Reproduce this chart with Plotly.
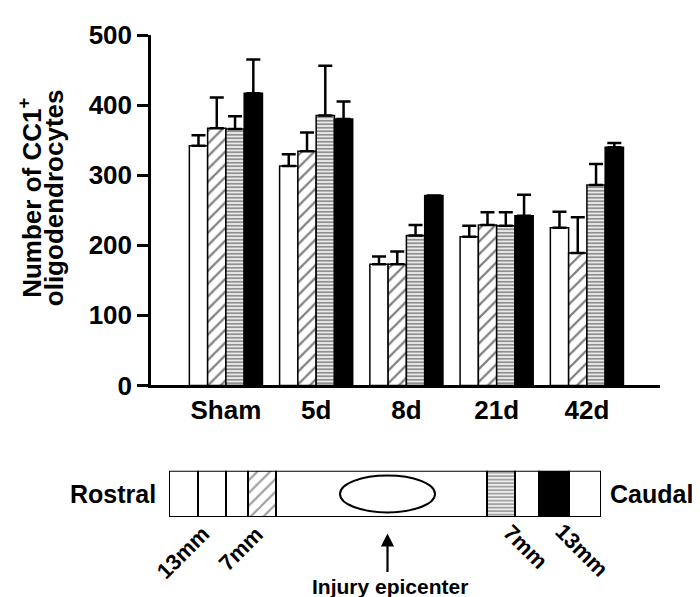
import plotly.graph_objects as go

# ---- data ----
categories = ["Sham", "5d", "8d", "21d", "42d"]
series_names = ["Rostral 13mm", "Rostral 7mm", "Caudal 7mm", "Caudal 13mm"]
rostral_13 = [342, 313, 173, 212, 225]
rostral_7 = [367, 334, 173, 229, 189]
caudal_7 = [366, 385, 214, 228, 286]
caudal_13 = [417, 380, 271, 242, 340]
err_rostral_13 = [15, 17, 11, 16, 23]
err_rostral_7 = [44, 27, 18, 18, 51]
err_caudal_7 = [18, 71, 15, 19, 30]
err_caudal_13 = [48, 25, 0, 30, 6]
y_ticks = [0, 100, 200, 300, 400, 500]

# schematic of the spinal cord (segment widths along the cord, arbitrary units)
seg_widths = [29, 28, 22, 28, 211, 28, 24, 30, 32]
seg_patterns = ["", "", "", "/", "", "-", "", "", ""]
seg_colors = ["white", "white", "white", "white", "white", "white", "white", "black", "white"]
epicenter = 218.5
lesion_half_width = 47.5
mm_labels = ["13mm", "7mm", "7mm", "13mm"]
mm_label_pos = [14, 72, 356, 413]
mm_label_angle = [-45, -45, 45, 45]

FONT = "Liberation Sans, Arial, Helvetica, sans-serif"


def bold(size):
    return dict(family=FONT, size=size, color="black", weight="bold")


values = [rostral_13, rostral_7, caudal_7, caudal_13]
errors = [err_rostral_13, err_rostral_7, err_caudal_7, err_caudal_13]
styles = [
    dict(color="white", pattern=None),
    dict(color="white", pattern=dict(shape="/", size=9, solidity=0.25, fgcolor="black", bgcolor="white")),
    dict(color="white", pattern=dict(shape="-", size=3.5, solidity=0.6, fgcolor="#222222", bgcolor="white")),
    dict(color="black", pattern=None),
]

fig = go.Figure()
for name, v, e, st in zip(series_names, values, errors, styles):
    marker = dict(color=st["color"], line=dict(color="black", width=1.5))
    if st["pattern"]:
        marker["pattern"] = st["pattern"]
    fig.add_trace(go.Bar(
        x=categories, y=v, name=name, marker=marker,
        error_y=dict(type="data", symmetric=False, array=e, arrayminus=[0] * len(e),
                     color="black", thickness=2.5, width=7),
        xaxis="x", yaxis="y", showlegend=False,
    ))

# schematic as one horizontal row of segments
starts = []
acc = 0
for w in seg_widths:
    starts.append(acc)
    acc += w
total = acc
fig.add_trace(go.Bar(
    x=seg_widths, base=starts, y=[0] * len(seg_widths), orientation="h", width=1,
    marker=dict(color=seg_colors, line=dict(color="black", width=2),
                pattern=dict(shape=seg_patterns, size=[9 if p == "/" else 3.5 for p in seg_patterns],
                             solidity=[0.25 if p == "/" else 0.6 for p in seg_patterns],
                             fgcolor="black")),
    xaxis="x2", yaxis="y2", showlegend=False, hoverinfo="skip",
))

fig.add_shape(type="circle", xref="x2", yref="y2",
              x0=epicenter - lesion_half_width, x1=epicenter + lesion_half_width,
              y0=-0.4, y1=0.4, line=dict(color="black", width=2))

annotations = []
annotations.append(dict(xref="x2", yref="paper", x=epicenter, y=-0.034, text="",
                        showarrow=True, arrowhead=2, arrowsize=1.2, arrowwidth=2.2,
                        arrowcolor="black", ax=0, ay=40))
annotations.append(dict(xref="x2", yref="paper", x=epicenter + 3, y=-0.145,
                        xanchor="center", yanchor="middle",
                        text="Injury epicenter", showarrow=False, font=bold(21)))
annotations.append(dict(xref="paper", yref="paper", x=0.0138, y=0.048,
                        xanchor="right", yanchor="middle",
                        text="Rostral", showarrow=False, font=bold(25)))
annotations.append(dict(xref="paper", yref="paper", x=0.897, y=0.048,
                        xanchor="left", yanchor="middle",
                        text="Caudal", showarrow=False, font=bold(25)))
for lab, pos, ang, yy in zip(mm_labels, mm_label_pos, mm_label_angle,
                             [-0.073, -0.065, -0.061, -0.069]):
    annotations.append(dict(xref="x2", yref="paper", x=pos, y=yy, text=lab, textangle=ang,
                            xanchor="center", yanchor="middle",
                            showarrow=False, font=bold(22)))
# y-axis title (two tight lines)
annotations.append(dict(xref="paper", yref="paper", x=-0.236, y=0.662, textangle=-90,
                        xanchor="center", yanchor="middle",
                        text="Number of CC1<sup>+</sup>", showarrow=False, font=bold(26)))
annotations.append(dict(xref="paper", yref="paper", x=-0.19, y=0.662, textangle=-90,
                        xanchor="center", yanchor="middle",
                        text="oligodendrocytes", showarrow=False, font=bold(26)))

fig.update_layout(
    width=700, height=597,
    margin=dict(l=143, r=48, t=18, b=88),
    paper_bgcolor="white", plot_bgcolor="white",
    barmode="group", bargap=0.19, bargroupgap=0.0,
    font=bold(26),
    xaxis=dict(domain=[0, 1], range=[-0.83, 4.81], showline=True, linecolor="black", linewidth=2.5,
               ticks="", showgrid=False, zeroline=False, tickfont=bold(26), anchor="y"),
    yaxis=dict(domain=[0.2729, 1], range=[0, 500], tickvals=y_ticks, showline=True,
               linecolor="black", linewidth=2.5, ticks="outside", ticklen=11, tickwidth=2.5,
               tickcolor="black", showgrid=False, zeroline=False, tickfont=bold(26),
               anchor="x"),
    xaxis2=dict(domain=[0.03536, 0.8841], range=[0, total], visible=False, anchor="y2",
                fixedrange=True),
    yaxis2=dict(domain=[0, 0.0957], range=[-0.5, 0.5], visible=False, anchor="x2",
                fixedrange=True),
    annotations=annotations,
)

fig.write_html("out.html")
